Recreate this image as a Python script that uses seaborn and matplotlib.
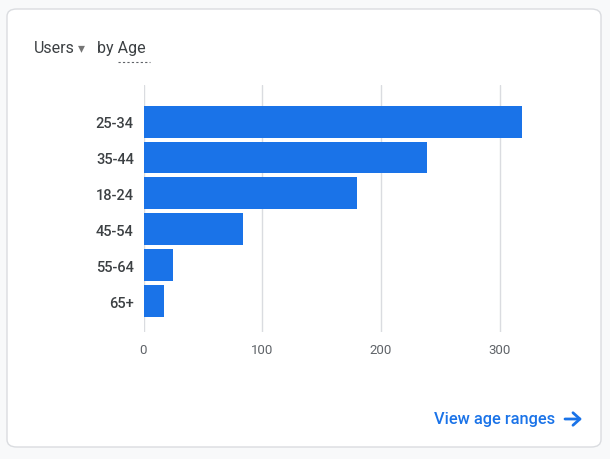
import pandas as pd
import seaborn as sns
import matplotlib.pyplot as plt
from matplotlib.patches import FancyBboxPatch, FancyArrowPatch

age_groups = ["25-34", "35-44", "18-24", "45-54", "55-64", "65+"]
users = [319, 239, 180, 84, 25, 17]
x_ticks = [0, 100, 200, 300]

df = pd.DataFrame({"Age": age_groups, "Users": users})

sns.set_style("white")
plt.rcParams["font.family"] = ["Roboto", "DejaVu Sans"]

W, H = 610, 460
fig = plt.figure(figsize=(6.1, 4.6), dpi=100)
fig.patch.set_facecolor("#f8f9fa")

card = FancyBboxPatch((7 / W, 1 - 448 / H), 594 / W, 438 / H,
                      boxstyle="round,pad=0,rounding_size=0.016",
                      transform=fig.transFigure, facecolor="white",
                      edgecolor="#dadce0", linewidth=1.0, zorder=-5)
fig.patches.append(card)

ax = fig.add_axes([143.5 / W, 1 - 333 / H, (523 - 143.5) / W, (333 - 86) / H])
ax.set_zorder(2)
ax.set_facecolor("none")
sns.barplot(data=df, x="Users", y="Age", order=age_groups, color="#1a73e8",
            saturation=1, width=0.89, linewidth=0, ax=ax, zorder=3)
ax.set_xlim(0, 319.5)
ax.set_ylim(5.86, -1.02)
ax.set_xticks(x_ticks)
ax.set_xticklabels([str(t) for t in x_ticks], color="#5f6368", fontsize=9.5)
ax.set_yticks(range(len(age_groups)))
ax.set_yticklabels(age_groups, color="#3c4043", fontsize=10.5, fontweight="medium")
ax.grid(axis="x", color="#dadce0", linewidth=1.0, zorder=0)
ax.grid(axis="y", visible=False)
for s in ax.spines.values():
    s.set_visible(False)
ax.tick_params(axis="x", length=0, pad=8)
ax.tick_params(axis="y", length=5, color="#dadce0", width=1, pad=2)
ax.set_xlabel("")
ax.set_ylabel("")

fig.text(34 / W, 1 - 49 / H, "Users", fontsize=11.5, color="#3c4043", va="center", ha="left")
fig.text(78 / W, 1 - 48 / H, "\u25BE", fontsize=10, color="#757575", va="center", ha="left",
         family=["DejaVu Sans"])
fig.text(97 / W, 1 - 49 / H, "by Age", fontsize=11.5, color="#3c4043", va="center", ha="left")
fig.lines.append(plt.Line2D([118 / W, 150 / W], [1 - 63 / H, 1 - 63 / H],
                            transform=fig.transFigure, color="#5f6368",
                            linewidth=0.8, linestyle=(0, (2, 2))))

fig.text(434 / W, 1 - 420 / H, "View age ranges", fontsize=11.8, color="#1a73e8",
         va="center", ha="left", fontweight="medium")
arrow = FancyArrowPatch((565 / W, 1 - 420 / H), (582 / W, 1 - 420 / H),
                        transform=fig.transFigure, color="#1a73e8", linewidth=2,
                        arrowstyle="->,head_length=5,head_width=4.5",
                        mutation_scale=1, shrinkA=0, shrinkB=0)
fig.patches.append(arrow)

fig.savefig("out.png", dpi=100, facecolor=fig.get_facecolor())
